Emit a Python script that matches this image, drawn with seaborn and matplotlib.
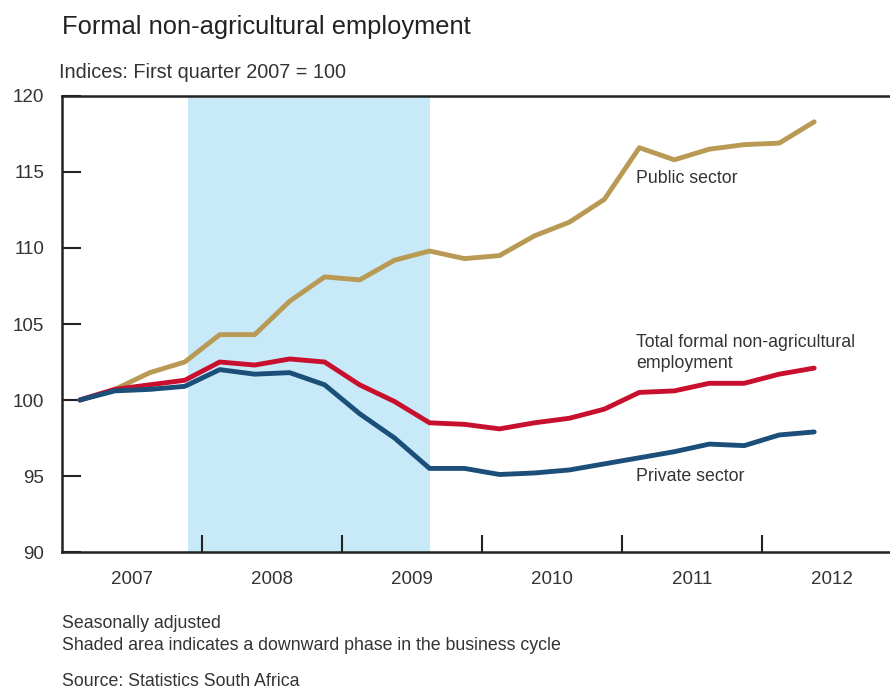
import matplotlib
matplotlib.use("Agg")
import matplotlib.pyplot as plt
import numpy as np
import pandas as pd
import seaborn as sns

# quarterly data, 2007Q1 - 2012Q2, index 2007Q1 = 100
quarters = ["2007Q1", "2007Q2", "2007Q3", "2007Q4",
            "2008Q1", "2008Q2", "2008Q3", "2008Q4",
            "2009Q1", "2009Q2", "2009Q3", "2009Q4",
            "2010Q1", "2010Q2", "2010Q3", "2010Q4",
            "2011Q1", "2011Q2", "2011Q3", "2011Q4",
            "2012Q1", "2012Q2"]
public = [100.0, 100.7, 101.8, 102.5, 104.3, 104.3, 106.5, 108.1, 107.9, 109.2, 109.8,
          109.3, 109.5, 110.8, 111.7, 113.2, 116.6, 115.8, 116.5, 116.8, 116.9, 118.3]
total = [100.0, 100.7, 101.0, 101.3, 102.5, 102.3, 102.7, 102.5, 101.0, 99.9, 98.5,
         98.4, 98.1, 98.5, 98.8, 99.4, 100.5, 100.6, 101.1, 101.1, 101.7, 102.1]
private = [100.0, 100.6, 100.7, 100.9, 102.0, 101.7, 101.8, 101.0, 99.1, 97.5, 95.5,
           95.5, 95.1, 95.2, 95.4, 95.8, 96.2, 96.6, 97.1, 97.0, 97.7, 97.9]
downturn = ("2007Q4", "2009Q3")
years = [2007, 2008, 2009, 2010, 2011, 2012]

colors = {"Public": "#B99A55", "Total": "#C8102E", "Private": "#1B4F7A"}
shade = "#C7E9F8"
txt = "#333333"


def qpos(q):
    return int(q[:4]) + (int(q[-1]) - 0.5) / 4


x = [qpos(q) for q in quarters]
df = pd.concat([
    pd.DataFrame({"x": x, "value": public, "series": "Public"}),
    pd.DataFrame({"x": x, "value": total, "series": "Total"}),
    pd.DataFrame({"x": x, "value": private, "series": "Private"}),
])

sns.set_style("white")
plt.rcParams["font.family"] = ["Liberation Sans", "DejaVu Sans"]

fig = plt.figure(figsize=(8.9, 6.89), dpi=100)
ax = fig.add_axes([0.0701, 0.1988, 0.9299, 0.6619])

ax.axvspan(qpos(downturn[0]) + 0.02, qpos(downturn[1]), color=shade, lw=0, zorder=0)
sns.lineplot(data=df, x="x", y="value", hue="series", palette=colors,
             linewidth=3.5, legend=False, ax=ax, zorder=3)

ax.set_xlim(2007, 2012.917)
ax.set_ylim(90, 120)
ax.set_yticks(np.arange(90, 121, 5))
ax.set_xticks(years[1:])
ax.set_xticklabels([])
ax.set_xticks([y + 0.5 for y in years], minor=True)
ax.set_xticklabels([str(y) for y in years], minor=True)
ax.tick_params(axis="x", which="major", bottom=True, direction="in", length=12, width=1.5,
               color="#222222")
ax.tick_params(axis="x", which="minor", bottom=True, length=0, pad=14, labelsize=13.5,
               labelcolor=txt)
ax.tick_params(axis="y", which="major", left=True, direction="in", length=14, width=1.5,
               color="#222222", pad=13, labelsize=13.5, labelcolor=txt)
ax.tick_params(axis="y", which="minor", left=False)
ax.set_xlabel("")
ax.set_ylabel("")
for side in ["left", "bottom", "top"]:
    ax.spines[side].set_linewidth(1.8)
    ax.spines[side].set_color("#222222")
ax.spines["right"].set_visible(False)

ax.text(2011.10, 114.6, "Public sector", fontsize=12.8, color=txt, va="center")
ax.text(2011.10, 103.1, "Total formal non-agricultural\nemployment", fontsize=12.8,
        color=txt, va="center", linespacing=1.3)
ax.text(2011.10, 95.0, "Private sector", fontsize=12.8, color=txt, va="center")

fig.text(62 / 890, 1 - 27 / 689, "Formal non-agricultural employment", fontsize=18.4,
         color="#222222", va="center")
fig.text(59 / 890, 1 - 73 / 689, "Indices: First quarter 2007 = 100", fontsize=14.3,
         color=txt, va="center")
fig.text(62 / 890, 1 - 623 / 689, "Seasonally adjusted", fontsize=12.8, color=txt, va="center")
fig.text(62 / 890, 1 - 645 / 689, "Shaded area indicates a downward phase in the business cycle",
         fontsize=12.8, color=txt, va="center")
fig.text(62 / 890, 1 - 682 / 689, "Source: Statistics South Africa", fontsize=12.8,
         color=txt, va="center")

fig.savefig("out.png", dpi=100)
